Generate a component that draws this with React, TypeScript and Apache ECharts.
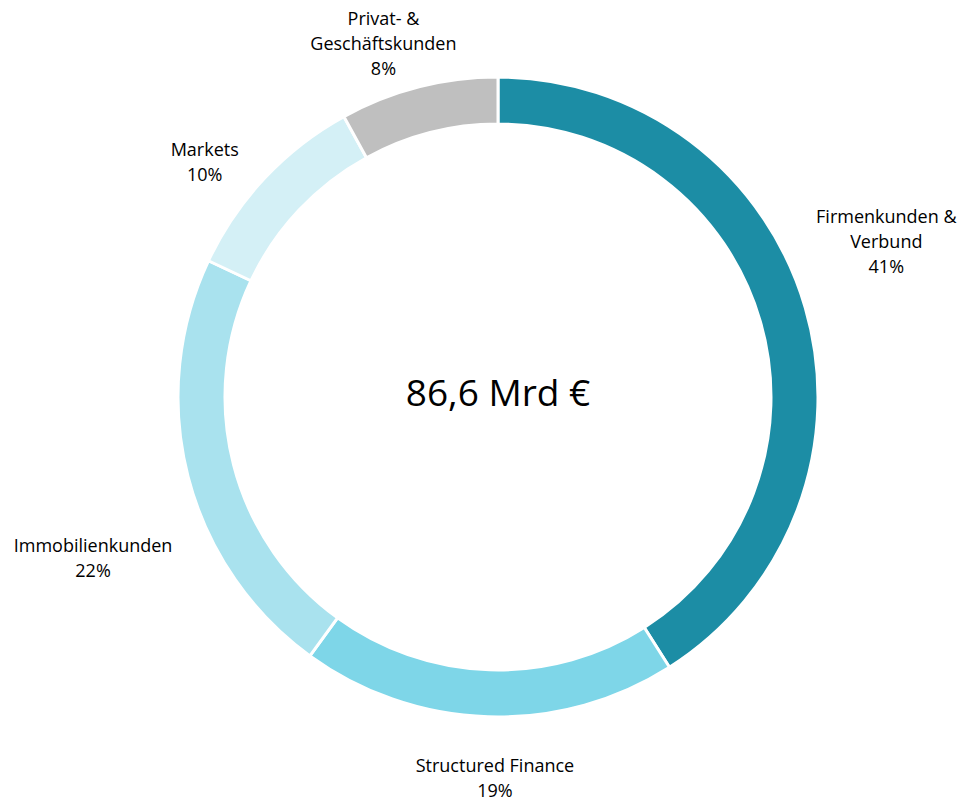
import React, { useEffect, useRef } from "react";
import * as echarts from "echarts";

const categories = [
  "Firmenkunden &\nVerbund",
  "Structured Finance",
  "Immobilienkunden",
  "Markets",
  "Privat- &\nGeschäftskunden",
];
const shares = [41, 19, 22, 10, 8];
const colors = ["#1C8DA5", "#7ED6E8", "#A9E2EE", "#D4F0F6", "#BFBFBF"];
const centerText = "86,6 Mrd €";
// label offsets from the outer edge point at each slice's mid-angle
const labelOffsets = [
  [81, -67],
  [7, 61],
  [-95, 81],
  [-60, -16],
  [-35, -44],
];

const FONT = "'Open Sans', Lato, sans-serif";

export default function App() {
  const ref = useRef<HTMLDivElement>(null);
  useEffect(() => {
    if (!ref.current) return;
    const chart = echarts.init(ref.current, null, { renderer: "svg" });
    chart.setOption({
      animation: false,
      backgroundColor: "#ffffff",
      graphic: [
        {
          type: "text",
          x: 498,
          y: 391,
          style: {
            text: centerText,
            font: `37px ${FONT}`,
            fill: "#000",
            align: "center",
            verticalAlign: "middle",
          },
        },
      ],
      series: [
        {
          type: "pie",
          center: [498, 397],
          radius: [273, 320],
          startAngle: 90,
          clockwise: true,
          avoidLabelOverlap: false,
          itemStyle: { borderColor: "#ffffff", borderWidth: 3 },
          label: {
            show: true,
            position: "outside",
            formatter: (p: any) => `${p.name}\n${p.value}%`,
            fontFamily: FONT,
            fontSize: 18,
            lineHeight: 25,
            color: "#000",
            align: "center",
          },
          labelLine: { show: false, length: 0, length2: 0 },
          labelLayout: (params: any) => {
            const pts = params.labelLinePoints;
            const o = labelOffsets[params.dataIndex];
            const p0 = pts ? pts[0] : [params.labelRect.x, params.labelRect.y];
            return {
              x: p0[0] + o[0],
              y: p0[1] + o[1],
              align: "center",
              verticalAlign: "middle",
            };
          },
          data: categories.map((c, i) => ({
            name: c,
            value: shares[i],
            itemStyle: { color: colors[i] },
          })),
        },
      ],
    });
    return () => chart.dispose();
  }, []);
  return (
    <div
      ref={ref}
      style={{ position: "fixed", left: 0, top: 0, width: 963, height: 803 }}
    />
  );
}
